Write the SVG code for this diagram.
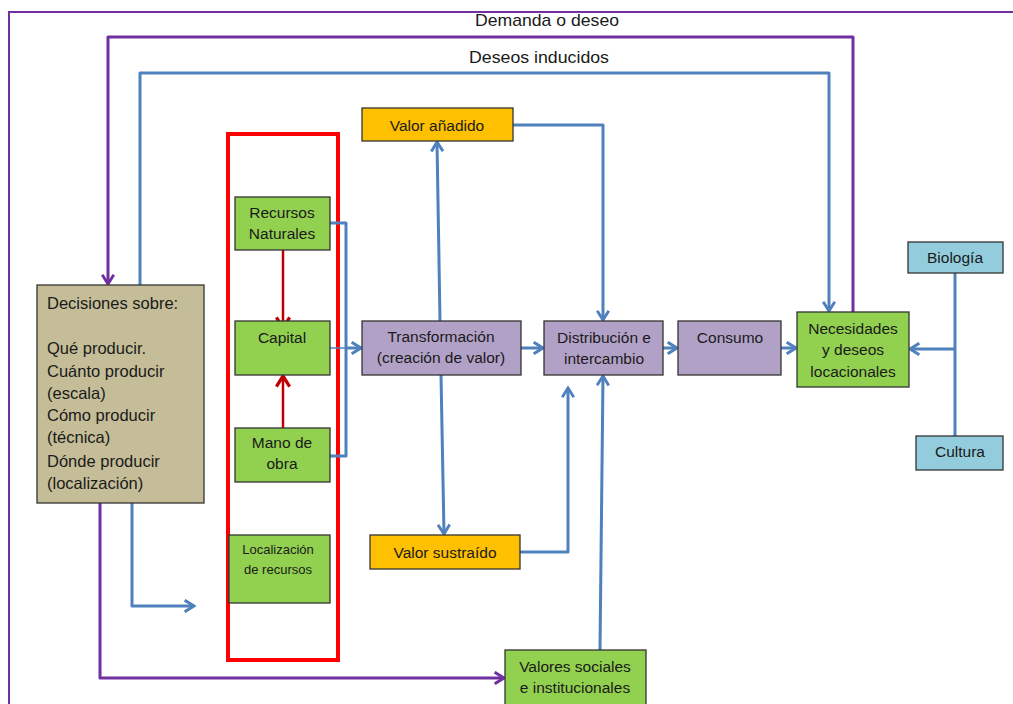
<svg xmlns="http://www.w3.org/2000/svg" width="1013" height="704" viewBox="0 0 1013 704">
<style>
text{font-family:"Liberation Sans",Arial,sans-serif;font-size:15.5px;fill:#1a1a1a;text-anchor:middle}
text.l{text-anchor:start;font-size:16.5px}
.box{stroke:#333;stroke-width:1.3}
.green{fill:#92d050}.lilac{fill:#b2a1c7}.orange{fill:#ffc000}.tan{fill:#c4bd97}.cyan{fill:#93cddd}
.b{fill:none;stroke:#4f81bd;stroke-width:3;stroke-linejoin:round}
.bt{fill:none;stroke:#4f81bd;stroke-width:1.5}
.p{fill:none;stroke:#7030a0;stroke-width:3;stroke-linejoin:round}
.r{fill:none;stroke:#c00000;stroke-width:2.5}
.title{font-size:17px}
.small{font-size:13px}
</style>
<defs>
<marker id="ab" markerUnits="userSpaceOnUse" markerWidth="14" markerHeight="14" viewBox="0 0 12 12" refX="10" refY="6" orient="auto"><path d="M2,1 L10,6 L2,11" fill="none" stroke="#4f81bd" stroke-width="2.5"/></marker>
<marker id="ap" markerUnits="userSpaceOnUse" markerWidth="14" markerHeight="14" viewBox="0 0 12 12" refX="10" refY="6" orient="auto"><path d="M2,1 L10,6 L2,11" fill="none" stroke="#7030a0" stroke-width="2.5"/></marker>
<marker id="ar" markerUnits="userSpaceOnUse" markerWidth="16" markerHeight="16" viewBox="0 0 12 12" refX="10" refY="6" orient="auto"><path d="M2,1 L10,6 L2,11" fill="none" stroke="#c00000" stroke-width="2.5"/></marker>
</defs>
<rect width="1013" height="704" fill="#fff"/>
<g id="frame">
<path d="M9,704 V12 H1013" fill="none" stroke="#7030a0" stroke-width="2"/>
<rect x="228" y="134" width="110" height="526" fill="none" stroke="#ff0000" stroke-width="4"/>
</g>
<g id="labels">
<text class="title" x="547" y="26" textLength="144" lengthAdjust="spacingAndGlyphs">Demanda o deseo</text>
<text class="title" x="539" y="63" textLength="140" lengthAdjust="spacingAndGlyphs">Deseos inducidos</text>
</g>
<g id="connectors">
<path class="p" d="M853,312 V37 H108 V284" marker-end="url(#ap)"/>
<path class="b" d="M140,285 V73 H829 V311" marker-end="url(#ab)"/>
<path class="p" d="M100,503 V678 H504" marker-end="url(#ap)"/>
<path class="b" d="M132,503 V606 H194" marker-end="url(#ab)"/>
<path class="r" d="M283,242 V328" marker-end="url(#ar)"/>
<path class="r" d="M283,428 V376" marker-end="url(#ar)"/>
<path class="b" d="M330,223 H346 V456 H330"/>
<path class="bt" d="M330,348 H346"/>
<path class="b" d="M346,348 H361" marker-end="url(#ab)"/>
<path class="b" d="M440,321 L437,142" marker-end="url(#ab)"/>
<path class="b" d="M441,375 L444,534" marker-end="url(#ab)"/>
<path class="b" d="M513,125 H603 V320" marker-end="url(#ab)"/>
<path class="b" d="M520,552 H568 V388" marker-end="url(#ab)"/>
<path class="b" d="M600,650 L603,376" marker-end="url(#ab)"/>
<path class="b" d="M521,348 H543" marker-end="url(#ab)"/>
<path class="b" d="M663,348 H677" marker-end="url(#ab)"/>
<path class="b" d="M781,348 H796" marker-end="url(#ab)"/>
<path class="b" d="M955,273 V436"/>
<path class="b" d="M955,349 H910" marker-end="url(#ab)"/>
</g>
<g id="decisiones">
<rect class="box tan" x="37" y="285" width="167" height="218"/>
<text class="l" x="47" y="309">Decisiones sobre:</text>
<text class="l" x="47" y="354">Qué producir.</text>
<text class="l" x="47" y="377">Cuánto producir</text>
<text class="l" x="47" y="399">(escala)</text>
<text class="l" x="47" y="421">Cómo producir</text>
<text class="l" x="47" y="443">(técnica)</text>
<text class="l" x="47" y="467">Dónde producir</text>
<text class="l" x="47" y="489">(localización)</text>
</g>
<g id="recursos">
<rect class="box green" x="235" y="197" width="95" height="53"/>
<text x="282" y="218">Recursos</text>
<text x="282" y="239">Naturales</text>
</g>
<g id="capital">
<rect class="box green" x="235" y="321" width="95" height="54"/>
<text x="282" y="343">Capital</text>
</g>
<g id="mano">
<rect class="box green" x="235" y="428" width="95" height="54"/>
<text x="282" y="448">Mano de</text>
<text x="282" y="469">obra</text>
</g>
<g id="localizacion">
<rect class="box green" x="229" y="535" width="101" height="68"/>
<text class="small" x="278" y="554">Localización</text>
<text class="small" x="278" y="574">de recursos</text>
</g>
<g id="valor-anadido">
<rect class="box orange" x="362" y="108" width="151" height="33"/>
<text x="437" y="131">Valor añadido</text>
</g>
<g id="valor-sustraido">
<rect class="box orange" x="370" y="535" width="150" height="34"/>
<text x="445" y="558">Valor sustraído</text>
</g>
<g id="transformacion">
<rect class="box lilac" x="362" y="321" width="159" height="54"/>
<text x="441" y="342">Transformación</text>
<text x="441" y="363">(creación de valor)</text>
</g>
<g id="distribucion">
<rect class="box lilac" x="544" y="321" width="119" height="54"/>
<text x="604" y="343">Distribución e</text>
<text x="604" y="364">intercambio</text>
</g>
<g id="consumo">
<rect class="box lilac" x="678" y="321" width="103" height="54"/>
<text x="730" y="343">Consumo</text>
</g>
<g id="necesidades">
<rect class="box green" x="797" y="312" width="112" height="75"/>
<text x="853" y="334">Necesidades</text>
<text x="853" y="355">y deseos</text>
<text x="853" y="377">locacionales</text>
</g>
<g id="biologia">
<rect class="box cyan" x="908" y="242" width="95" height="31"/>
<text x="955" y="263">Biología</text>
</g>
<g id="cultura">
<rect class="box cyan" x="916" y="436" width="87" height="34"/>
<text x="960" y="457">Cultura</text>
</g>
<g id="valores">
<rect class="box green" x="505" y="650" width="141" height="56"/>
<text x="575" y="672">Valores sociales</text>
<text x="575" y="693">e institucionales</text>
</g>
</svg>
